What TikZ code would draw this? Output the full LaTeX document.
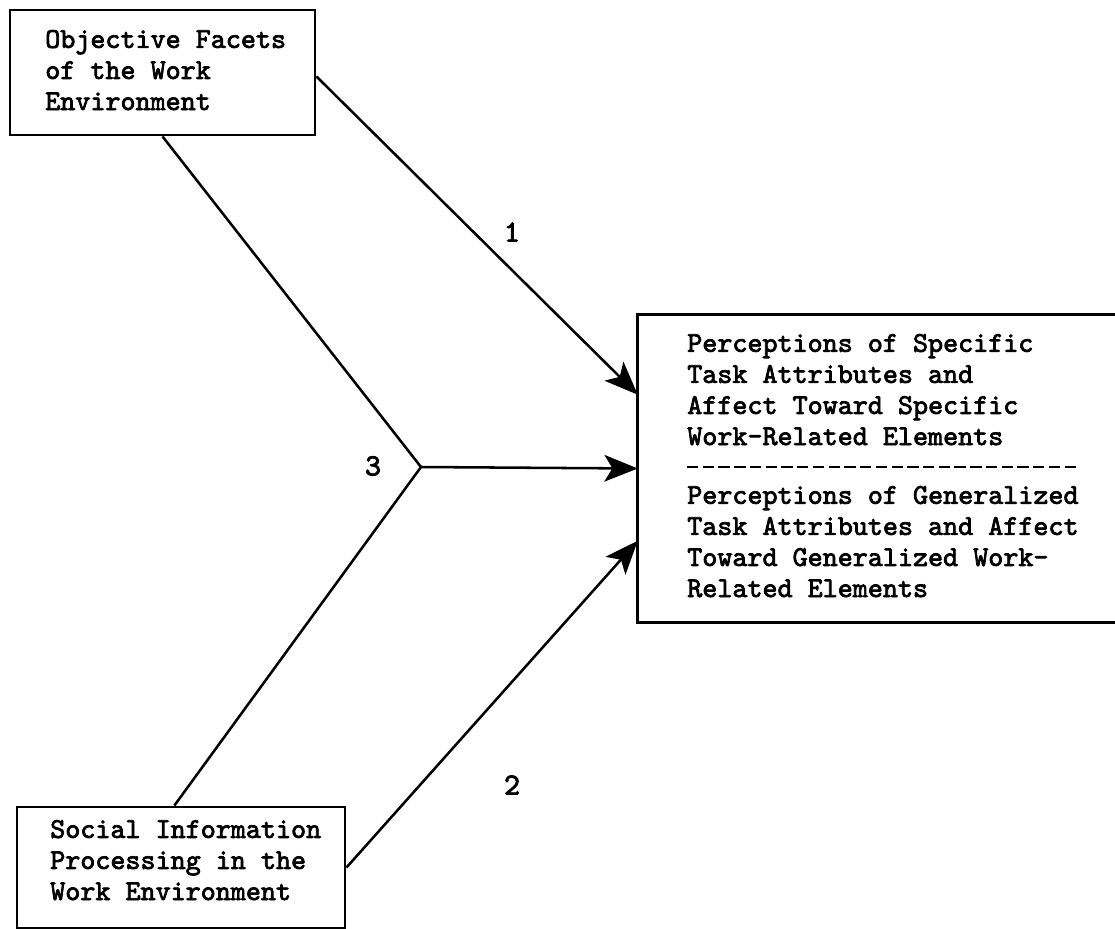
\documentclass[tikz,border=0pt]{standalone}
\usepackage{fontspec}
\newfontfamily\twfont[FakeBold=2.6]{lmmono10-regular.otf}
\usetikzlibrary{arrows.meta,fit,calc}
\begin{document}
\begin{tikzpicture}[x=0.75pt,y=-0.75pt,
  box/.style={draw, line width=2.2pt, inner sep=0pt},
  boxline/.style={line width=2.2pt},
  txt/.style={font=\twfont\fontsize{21.5}{23.3}\selectfont, align=left, anchor=base west, inner sep=0pt},
  conn/.style={line width=1.9pt},
  arr/.style={conn, -{Stealth[length=25pt,width=20pt,inset=6pt]}},
  num/.style={font=\twfont\fontsize{23}{24}\selectfont, inner sep=0pt},
  divider/.style={line width=2.2pt, dash pattern=on 8.5pt off 3.3pt}]
\useasboundingbox (0,0) rectangle (1115,929);
% boxes
\node[box, fit={(10,10) (315,135)}] (obj) {};
\node[box, fit={(17,807) (345,928)}] (soc) {};
\node[inner sep=0pt, fit={(638,315) (1118,622)}] (rb) {};
\draw[boxline] (rb.north east) -- (rb.north west) -- (rb.south west) -- (rb.south east);
% texts (anchor = baseline of last line)
\node[txt] (objt) at (45,110) {Objective Facets\\of the Work\\Environment};
\node[txt] (soct) at (50,900) {Social Information\\Processing in the\\Work Environment};
\node[txt] (spec) at (687,445) {Perceptions of Specific\\Task Attributes and\\Affect Toward Specific\\Work-Related Elements};
\node[txt] (gen) at (687,597) {Perceptions of Generalized\\Task Attributes and Affect\\Toward Generalized Work-\\Related Elements};
% divider
\coordinate (d1) at (687,467);
\coordinate (d2) at (1080,467);
\draw[divider] (d1) -- (d2);
% junction
\coordinate (j) at (421,467);
% connectors
\draw[arr] ([yshift=-3pt]obj.east) -- ($(rb.north west)!0.26!(rb.south west)$);
\draw[arr] (soc.east) -- ($(rb.north west)!0.735!(rb.south west)$);
\draw[conn, line join=miter] (obj.south) -- (j) -- ($(soc.north west)!0.48!(soc.north east)$);
\draw[arr] (j) -- (rb.west);
% labels
\node[num] (n1) at (512,232) {1};
\node[num] (n3) at (373,466) {3};
\node[num] (n2) at (512,785) {2};
\end{tikzpicture}
\end{document}
